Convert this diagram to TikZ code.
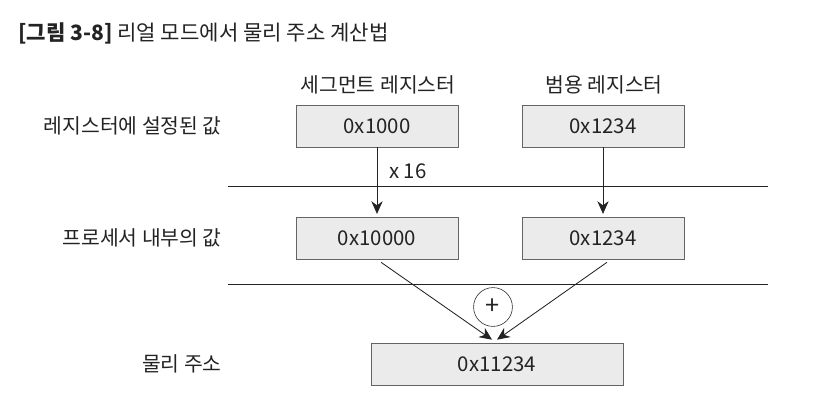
\documentclass[tikz,border=0pt]{standalone}
\usepackage{fontspec}
\setmainfont{Noto Sans CJK KR}
\usepackage{xcolor}
\usetikzlibrary{positioning,arrows.meta,calc}
\definecolor{boxgray}{RGB}{235,235,235}
\definecolor{edgegray}{RGB}{100,100,100}
\definecolor{inkgray}{RGB}{35,35,35}

\begin{document}
\begin{tikzpicture}[x=0.025cm, y=-0.025cm, every node/.style={font=\fontsize{14.5}{17}\selectfont, text=inkgray}]
  \tikzset{
    valbox/.style={draw=edgegray, fill=boxgray, minimum width=4.05cm, minimum height=1.05cm, inner sep=0pt},
    rowlabel/.style={anchor=east, inner sep=0pt},
    flow/.style={-{Stealth[length=9pt, width=8pt]}, semithick, inkgray}
  }
  \useasboundingbox (0,0) rectangle (818,408);

  % caption
  \node[anchor=west, inner sep=0pt, font=\fontsize{15}{18}\selectfont] (cap) at (18,33) {\textbf{[그림 3-8]} 리얼 모드에서 물리 주소 계산법};

  % column headers
  \node (hseg) at (378,85) {세그먼트 레지스터};
  \node (hgen) at (604,85) {범용 레지스터};

  % row labels
  \node[rowlabel] (lset)  at (222,126) {레지스터에 설정된 값};
  \node[rowlabel] (lcpu)  at (222,238) {프로세서 내부의 값};
  \node[rowlabel] (lphys) at (222,364) {물리 주소};

  % separators
  \foreach \y/\n in {186/sepA, 284/sepB} {
    \draw[inkgray, semithick] (228,\y) coordinate (\n W) -- (768,\y) coordinate (\n E);
  }

  \node[valbox] (seg)  at (377,126) {0x1000};
  \node[valbox] (gen)  at (603,126) {0x1234};
  \node[valbox] (segx) at (377,238) {0x10000};
  \node[valbox] (genx) at (603,238) {0x1234};
  \node[valbox, minimum width=6.3cm] (phys) at (497,364) {0x11234};
  \node[draw=inkgray, circle, minimum size=0.97cm, inner sep=0pt, font=\fontsize{18}{18}\selectfont] (plus) at (493,307) {+};

  \draw[flow, shorten >=2pt] (seg) -- node[pos=0.35, right=5pt] {x 16} (segx);
  \draw[flow, shorten >=2pt] (gen) -- (genx);
  \draw[flow] ([shift={(4,3)}]segx.south) -- ([shift={(-5,-3)}]phys.north);
  \draw[flow] ([shift={(4,3)}]genx.south) -- ([shift={(0,-3)}]phys.north);
\end{tikzpicture}
\end{document}
